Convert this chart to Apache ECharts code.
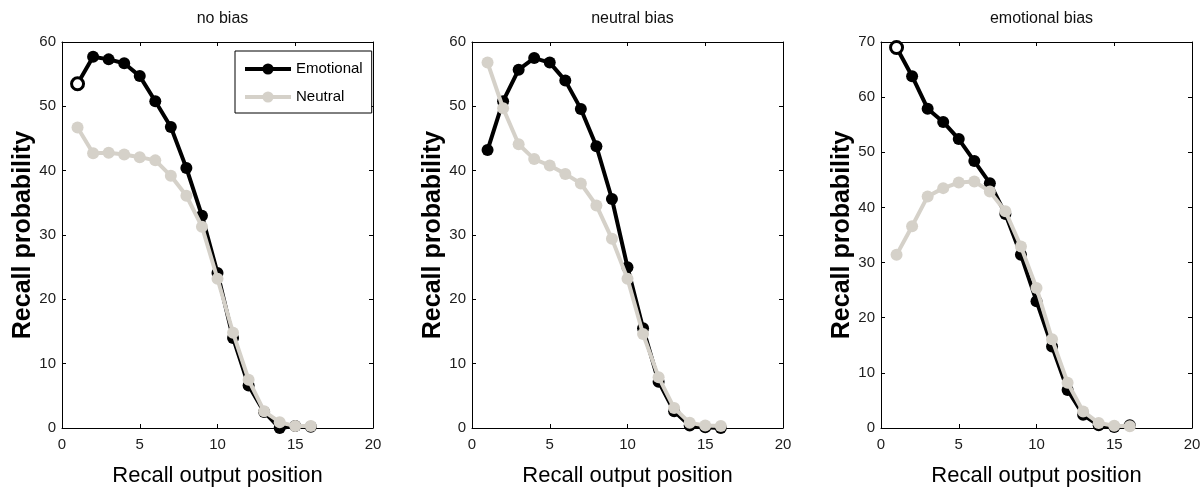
<!DOCTYPE html>
<html>
<head>
<meta charset="utf-8">
<script src="https://cdn.jsdelivr.net/npm/echarts@6/dist/echarts.min.js"></script>
<style>
html,body{margin:0;padding:0;background:#fff;}
#chart{width:1204px;height:493px;}
</style>
</head>
<body>
<div id="chart"></div>
<script>
// ---- data ----
const positions = [1,2,3,4,5,6,7,8,9,10,11,12,13,14,15,16];
const panelTitles = ['no bias', 'neutral bias', 'emotional bias'];
const seriesNames = ['Emotional', 'Neutral'];
const xTicks = [0, 5, 10, 15, 20];
const yMaxes = [60, 60, 70];

const noBiasEmotional = [53.5, 57.7, 57.3, 56.7, 54.7, 50.8, 46.8, 40.4, 33.0, 24.1, 14.0, 6.6, 2.5, 0.0, 0.3, 0.2];
const noBiasNeutral   = [46.7, 42.7, 42.8, 42.5, 42.1, 41.6, 39.2, 36.1, 31.3, 23.2, 14.8, 7.5, 2.6, 0.9, 0.3, 0.3];

const neutralBiasEmotional = [43.2, 50.8, 55.7, 57.5, 56.8, 54.0, 49.6, 43.8, 35.6, 25.0, 15.5, 7.2, 2.6, 0.4, 0.1, 0.0];
const neutralBiasNeutral   = [56.8, 49.7, 44.1, 41.8, 40.8, 39.5, 38.0, 34.6, 29.4, 23.2, 14.6, 7.9, 3.1, 0.8, 0.4, 0.3];

const emotionalBiasEmotional = [69.0, 63.8, 57.9, 55.5, 52.4, 48.4, 44.4, 38.8, 31.4, 23.0, 14.8, 6.9, 2.4, 0.5, 0.2, 0.5];
const emotionalBiasNeutral   = [31.4, 36.6, 42.0, 43.5, 44.5, 44.7, 42.9, 39.3, 32.9, 25.4, 16.1, 8.2, 3.0, 0.9, 0.4, 0.3];

// ---- layout / style ----
const panels = [
  {emo: noBiasEmotional, neu: noBiasNeutral, hollowFirst: true},
  {emo: neutralBiasEmotional, neu: neutralBiasNeutral, hollowFirst: false},
  {emo: emotionalBiasEmotional, neu: emotionalBiasNeutral, hollowFirst: true}
];
const gridLefts = [62, 472, 881];
const gridWidth = 311;
const gridTop = 42;
const gridHeight = 386;
const arial = "'Liberation Sans', Arial, sans-serif";
const EMO = '#000000';
const NEU = '#d5d1c9';
const tickColor = '#1c1c1c';

const grids = [], xAxes = [], yAxes = [], series = [], titles = [];

panels.forEach((p, i) => {
  grids.push({left: gridLefts[i], top: gridTop, width: gridWidth, height: gridHeight, containLabel: false});
  titles.push({
    text: panelTitles[i], left: gridLefts[i] + gridWidth / 2, top: 6, textAlign: 'center',
    textStyle: {fontFamily: arial, fontSize: 16, fontWeight: 'normal', color: '#111'}
  });
  const axLine = {show: true, onZero: false, lineStyle: {color: '#000', width: 1}};
  const tick = {show: true, inside: true, length: 4, lineStyle: {color: '#000', width: 1}};
  // bottom x
  xAxes.push({
    gridIndex: i, type: 'value', position: 'bottom', min: xTicks[0], max: xTicks[xTicks.length - 1],
    interval: xTicks[1] - xTicks[0],
    axisLine: axLine, axisTick: tick, splitLine: {show: false},
    axisLabel: {margin: 9, fontFamily: arial, fontSize: 15, color: tickColor},
    name: 'Recall output position', nameLocation: 'middle', nameGap: 37,
    nameTextStyle: {fontFamily: arial, fontSize: 22, color: '#000'}
  });
  // top mirror
  xAxes.push({
    gridIndex: i, type: 'value', position: 'top', min: xTicks[0], max: xTicks[xTicks.length - 1],
    interval: xTicks[1] - xTicks[0],
    axisLine: axLine, axisTick: tick, splitLine: {show: false}, axisLabel: {show: false}
  });
  // left y
  yAxes.push({
    gridIndex: i, type: 'value', position: 'left', min: 0, max: yMaxes[i], interval: 10,
    axisLine: axLine, axisTick: tick, splitLine: {show: false},
    axisLabel: {margin: 6, fontFamily: arial, fontSize: 15, color: tickColor},
    name: 'Recall probability', nameLocation: 'middle', nameGap: 26, nameRotate: 90,
    nameTextStyle: {fontFamily: arial, fontSize: 25, fontWeight: 'bold', color: '#000'}
  });
  // right mirror
  yAxes.push({
    gridIndex: i, type: 'value', position: 'right', min: 0, max: yMaxes[i], interval: 10,
    axisLine: axLine, axisTick: tick, splitLine: {show: false}, axisLabel: {show: false}
  });

  const emoData = positions.map((x, k) => {
    const item = {value: [x, p.emo[k]]};
    if (k === 0 && p.hollowFirst) {
      item.itemStyle = {color: '#fff', borderColor: EMO, borderWidth: 3};
    }
    return item;
  });
  const neuData = positions.map((x, k) => [x, p.neu[k]]);

  series.push({
    name: seriesNames[0], type: 'line', xAxisIndex: i * 2, yAxisIndex: i * 2,
    data: emoData, symbol: 'circle', symbolSize: 12, showAllSymbol: true,
    lineStyle: {color: EMO, width: 4}, itemStyle: {color: EMO},
    emphasis: {disabled: true}, animation: false, z: 2
  });
  series.push({
    name: seriesNames[1], type: 'line', xAxisIndex: i * 2, yAxisIndex: i * 2,
    data: neuData, symbol: 'circle', symbolSize: 12, showAllSymbol: true,
    lineStyle: {color: NEU, width: 4}, itemStyle: {color: NEU},
    emphasis: {disabled: true}, animation: false, z: 3
  });
});

const chart = echarts.init(document.getElementById('chart'), null, {renderer: 'canvas'});
chart.setOption({
  backgroundColor: '#fff',
  animation: false,
  title: titles,
  grid: grids,
  xAxis: xAxes,
  yAxis: yAxes,
  legend: {
    data: seriesNames,
    orient: 'vertical', left: 235, top: 51,
    backgroundColor: '#fff', borderColor: '#000', borderWidth: 1, borderRadius: 0,
    padding: [8, 9, 6, 8], itemGap: 8, itemWidth: 46, itemHeight: 14,
    lineStyle: {width: 4},
    textStyle: {fontFamily: arial, fontSize: 15, color: '#000', lineHeight: 20}
  },
  series: series
});
</script>
</body>
</html>
